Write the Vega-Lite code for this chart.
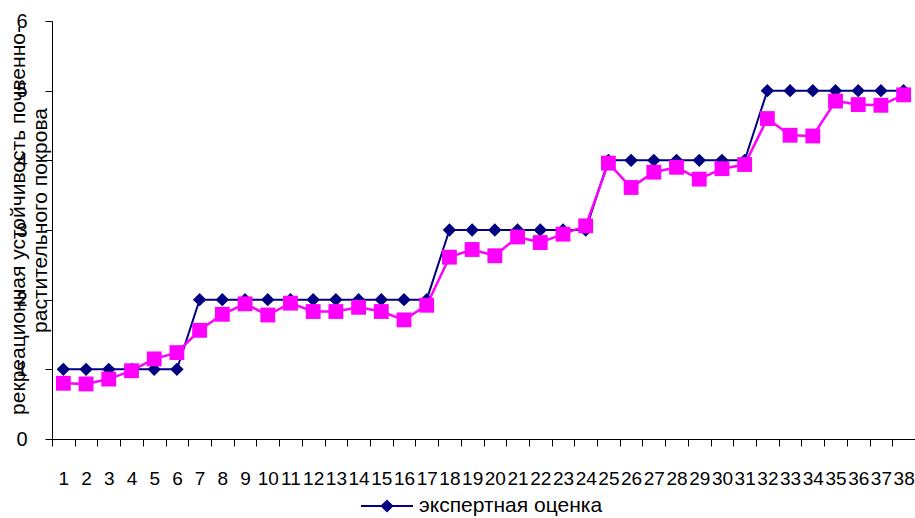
{
  "$schema": "https://vega.github.io/schema/vega-lite/v6.json",
  "width": 863,
  "height": 418,
  "autosize": "none",
  "padding": {"left": 52, "top": 21, "right": 0, "bottom": 79},
  "background": "white",
  "config": {"view": {"stroke": null}, "font": "Liberation Sans"},
  "datasets": {
    "expert": [
      {"n":1,"s":"экспертная оценка","v":1},{"n":2,"s":"экспертная оценка","v":1},{"n":3,"s":"экспертная оценка","v":1},{"n":4,"s":"экспертная оценка","v":1},{"n":5,"s":"экспертная оценка","v":1},{"n":6,"s":"экспертная оценка","v":1},
      {"n":7,"s":"экспертная оценка","v":2},{"n":8,"s":"экспертная оценка","v":2},{"n":9,"s":"экспертная оценка","v":2},{"n":10,"s":"экспертная оценка","v":2},{"n":11,"s":"экспертная оценка","v":2},{"n":12,"s":"экспертная оценка","v":2},{"n":13,"s":"экспертная оценка","v":2},{"n":14,"s":"экспертная оценка","v":2},{"n":15,"s":"экспертная оценка","v":2},{"n":16,"s":"экспертная оценка","v":2},{"n":17,"s":"экспертная оценка","v":2},
      {"n":18,"s":"экспертная оценка","v":3},{"n":19,"s":"экспертная оценка","v":3},{"n":20,"s":"экспертная оценка","v":3},{"n":21,"s":"экспертная оценка","v":3},{"n":22,"s":"экспертная оценка","v":3},{"n":23,"s":"экспертная оценка","v":3},{"n":24,"s":"экспертная оценка","v":3},
      {"n":25,"s":"экспертная оценка","v":4},{"n":26,"s":"экспертная оценка","v":4},{"n":27,"s":"экспертная оценка","v":4},{"n":28,"s":"экспертная оценка","v":4},{"n":29,"s":"экспертная оценка","v":4},{"n":30,"s":"экспертная оценка","v":4},{"n":31,"s":"экспертная оценка","v":4},
      {"n":32,"s":"экспертная оценка","v":5},{"n":33,"s":"экспертная оценка","v":5},{"n":34,"s":"экспертная оценка","v":5},{"n":35,"s":"экспертная оценка","v":5},{"n":36,"s":"экспертная оценка","v":5},{"n":37,"s":"экспертная оценка","v":5},{"n":38,"s":"экспертная оценка","v":5}
    ],
    "calc": [
      {"n":1,"s":"расчетная оценка","v":0.80},{"n":2,"s":"расчетная оценка","v":0.79},{"n":3,"s":"расчетная оценка","v":0.86},{"n":4,"s":"расчетная оценка","v":0.98},{"n":5,"s":"расчетная оценка","v":1.15},{"n":6,"s":"расчетная оценка","v":1.24},
      {"n":7,"s":"расчетная оценка","v":1.56},{"n":8,"s":"расчетная оценка","v":1.79},{"n":9,"s":"расчетная оценка","v":1.94},{"n":10,"s":"расчетная оценка","v":1.78},{"n":11,"s":"расчетная оценка","v":1.95},{"n":12,"s":"расчетная оценка","v":1.83},{"n":13,"s":"расчетная оценка","v":1.83},{"n":14,"s":"расчетная оценка","v":1.89},{"n":15,"s":"расчетная оценка","v":1.83},{"n":16,"s":"расчетная оценка","v":1.71},{"n":17,"s":"расчетная оценка","v":1.92},
      {"n":18,"s":"расчетная оценка","v":2.61},{"n":19,"s":"расчетная оценка","v":2.72},{"n":20,"s":"расчетная оценка","v":2.63},{"n":21,"s":"расчетная оценка","v":2.90},{"n":22,"s":"расчетная оценка","v":2.82},{"n":23,"s":"расчетная оценка","v":2.94},{"n":24,"s":"расчетная оценка","v":3.06},
      {"n":25,"s":"расчетная оценка","v":3.96},{"n":26,"s":"расчетная оценка","v":3.61},{"n":27,"s":"расчетная оценка","v":3.83},{"n":28,"s":"расчетная оценка","v":3.90},{"n":29,"s":"расчетная оценка","v":3.73},{"n":30,"s":"расчетная оценка","v":3.88},{"n":31,"s":"расчетная оценка","v":3.94},
      {"n":32,"s":"расчетная оценка","v":4.60},{"n":33,"s":"расчетная оценка","v":4.36},{"n":34,"s":"расчетная оценка","v":4.35},{"n":35,"s":"расчетная оценка","v":4.85},{"n":36,"s":"расчетная оценка","v":4.80},{"n":37,"s":"расчетная оценка","v":4.79},{"n":38,"s":"расчетная оценка","v":4.94}
    ]
  },
  "encoding": {
    "x": {
      "field": "n", "type": "ordinal",
      "scale": {"paddingInner": 0, "paddingOuter": 0},
      "axis": {
        "title": null, "labelAngle": 0, "labelOverlap": false, "labelFontSize": 19,
        "labelColor": "black", "labelPadding": 23, "tickBand": "extent", "tickSize": 7,
        "tickColor": "black", "domainColor": "black", "grid": false
      }
    },
    "y": {
      "field": "v", "type": "quantitative",
      "scale": {"domain": [0, 6], "nice": false},
      "axis": {
        "values": [0, 1, 2, 3, 4, 5, 6], "grid": false, "tickSize": 7, "tickColor": "black",
        "domainColor": "black", "labelFontSize": 20, "labelColor": "black", "labelPadding": 18,
        "title": ["рекреационная устойчивость почвенно-", "растительного покрова"],
        "titleFontSize": 21, "titleFontWeight": "normal", "titleColor": "black",
        "titleX": -45, "titleY": 199, "titleAlign": "center", "titleBaseline": "top", "titleLineHeight": 22
      }
    },
    "color": {
      "field": "s", "type": "nominal",
      "scale": {"domain": ["экспертная оценка", "расчетная оценка"], "range": ["#000080", "#FF00FF"]},
      "legend": {
        "title": null, "orient": "none", "legendX": 308, "legendY": 458, "values": ["экспертная оценка"],
        "labelFontSize": 21, "labelColor": "black", "labelOffset": 5, "labelLimit": 0, "padding": 0,
        "symbolType": "M-1,0L1,0M-0.2,0L0,-0.2L0.2,0L0,0.2Z", "symbolSize": 2704, "symbolStrokeWidth": 2,
        "symbolFillColor": "#000080",
        "encode": {"symbols": {"update": {"fill": {"value": "#000080"}, "stroke": {"value": "#000080"}}}}
      }
    }
  },
  "layer": [
    {"data": {"name": "expert"}, "mark": {"type": "line", "strokeWidth": 2}},
    {"data": {"name": "expert"}, "mark": {"type": "point", "shape": "diamond", "filled": true, "opacity": 1, "size": 180}},
    {"data": {"name": "calc"}, "mark": {"type": "line", "strokeWidth": 2.5}},
    {"data": {"name": "calc"}, "mark": {"type": "point", "shape": "square", "filled": true, "opacity": 1, "size": 220}}
  ]
}
